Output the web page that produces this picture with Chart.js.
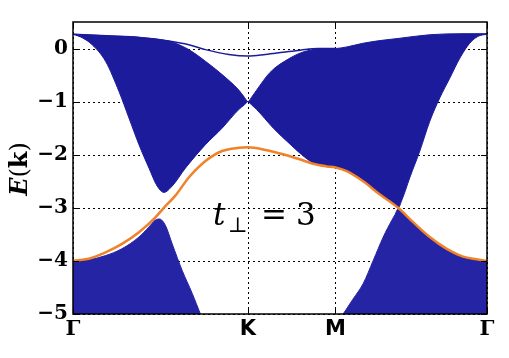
<!DOCTYPE html>
<html><head><meta charset="utf-8">
<script src="https://cdn.jsdelivr.net/npm/chart.js@4"></script>
<style>html,body{margin:0;padding:0;background:#fff}canvas{display:block}</style>
</head><body>
<canvas id="c" width="509" height="358"></canvas>
<script>
// path coordinate: Γ=0, K=1, M=1.5, Γ=2.366 (|ΓK| : |KM| : |MΓ| = 1 : 0.5 : 0.866)
const kTicks = [0, 1, 1.5, 2.366];
const kLabels = ['Γ', 'K', 'M', 'Γ'];
const eTicks = [-5, -4, -3, -2, -1, 0];
const eLabels = ['−5', '−4', '−3', '−2', '−1', '0'];
const eMin = -5, eMax = 0.5;

// upper continuum: top edge
const upperTopX = [0, 0.19, 0.38, 0.548, 0.6, 0.662, 0.757, 0.852, 0.947, 0.98, 1.0, 1.02, 1.05, 1.126, 1.24, 1.32, 1.40, 1.5, 1.564, 1.658, 1.754, 1.858, 2.039, 2.229, 2.366];
const upperTopE = [0.27, 0.24, 0.21, 0.14, 0.08, -0.02, -0.24, -0.49, -0.78, -0.92, -1.0, -0.92, -0.78, -0.45, -0.18, -0.06, -0.01, 0.0, 0.03, 0.1, 0.15, 0.19, 0.26, 0.28, 0.28];
// upper continuum: bottom edge
const upperBotX = [0, 0.055, 0.11, 0.186, 0.263, 0.32, 0.377, 0.434, 0.481, 0.519, 0.567, 0.643, 0.757, 0.852, 0.947, 0.98, 1.0, 1.02, 1.05, 1.145, 1.24, 1.307, 1.371, 1.43, 1.5, 1.564, 1.658, 1.754, 1.83, 1.858, 1.88, 1.925, 1.982, 2.039, 2.096, 2.153, 2.211, 2.267, 2.315, 2.366];
const upperBotE = [0.27, 0.2, 0.07, -0.24, -0.81, -1.31, -1.81, -2.25, -2.59, -2.71, -2.59, -2.25, -1.81, -1.5, -1.15, -1.06, -1.0, -1.06, -1.15, -1.5, -1.8, -2.0, -2.15, -2.2, -2.23, -2.31, -2.5, -2.75, -2.91, -3.0, -2.85, -2.43, -1.93, -1.37, -0.93, -0.56, -0.18, 0.1, 0.23, 0.27];
// lower continuum, left piece (top edge)
const lowLeftX = [0, 0.09, 0.186, 0.28, 0.377, 0.434, 0.471, 0.494, 0.528, 0.567, 0.624, 0.681, 0.728];
const lowLeftE = [-4.01, -3.98, -3.9, -3.77, -3.55, -3.36, -3.23, -3.21, -3.33, -3.68, -4.18, -4.61, -5.0];
// lower continuum, right piece (top edge)
const lowRightX = [1.544, 1.6, 1.658, 1.716, 1.773, 1.821, 1.84, 1.858, 1.88, 1.944, 2.039, 2.134, 2.229, 2.306, 2.366];
const lowRightE = [-5.0, -4.72, -4.43, -3.99, -3.55, -3.24, -3.13, -3.02, -3.09, -3.29, -3.57, -3.79, -3.93, -3.98, -4.02];
// thin surface band near E=0
const surfX = [0, 0.19, 0.38, 0.548, 0.662, 0.757, 0.89, 1.0, 1.1, 1.2, 1.3, 1.4, 1.5];
const surfE = [0.27, 0.24, 0.21, 0.14, 0.07, -0.02, -0.11, -0.14, -0.11, -0.07, -0.03, 0.0, 0.0];
// orange band
const edgeX = [0, 0.09, 0.186, 0.28, 0.377, 0.471, 0.519, 0.585, 0.662, 0.757, 0.852, 0.947, 1.0, 1.1, 1.2, 1.3, 1.371, 1.45, 1.5, 1.564, 1.658, 1.754, 1.858, 1.944, 2.039, 2.134, 2.229, 2.306, 2.366];
const edgeE = [-4.0, -3.96, -3.84, -3.68, -3.46, -3.18, -3.0, -2.77, -2.43, -2.12, -1.93, -1.87, -1.86, -1.91, -1.99, -2.09, -2.17, -2.22, -2.24, -2.31, -2.5, -2.75, -3.0, -3.27, -3.55, -3.77, -3.92, -3.97, -4.0];

const annX = 0.80, annY = -3.32;   // position of the t⊥ = 3 label (data units)

const blue = 'rgb(27,27,155)';
const blueLow = 'rgb(36,36,164)';
const orange = 'rgb(240,130,42)';

function pts(xs, ys) { return xs.map((x, i) => ({ x: x, y: ys[i] })); }

const decor = {
  id: 'decor',
  beforeDatasetsDraw(chart) {
    const { ctx, chartArea: a, scales: { x, y } } = chart;
    ctx.save();
    ctx.strokeStyle = '#000';
    ctx.lineWidth = 1;
    ctx.setLineDash([2, 3]);
    ctx.beginPath();
    kTicks.forEach(v => { const p = Math.round(x.getPixelForValue(v)) + 0.5; ctx.moveTo(p, a.top); ctx.lineTo(p, a.bottom); });
    eTicks.forEach(v => { const p = Math.round(y.getPixelForValue(v)) + 0.5; ctx.moveTo(a.left, p); ctx.lineTo(a.right, p); });
    ctx.stroke();
    ctx.restore();
  },
  afterDraw(chart) {
    const { ctx, chartArea: a, scales: { x, y } } = chart;
    ctx.save();
    ctx.strokeStyle = '#000';
    ctx.lineWidth = 1;
    ctx.beginPath();
    kTicks.forEach(v => { const p = Math.round(x.getPixelForValue(v)) + 0.5; ctx.moveTo(p, a.bottom); ctx.lineTo(p, a.bottom - 6); ctx.moveTo(p, a.top); ctx.lineTo(p, a.top + 6); });
    eTicks.forEach(v => { const p = Math.round(y.getPixelForValue(v)) + 0.5; ctx.moveTo(a.left, p); ctx.lineTo(a.left + 6, p); ctx.moveTo(a.right, p); ctx.lineTo(a.right - 6, p); });
    ctx.stroke();
    ctx.lineWidth = 1.5;
    ctx.strokeRect(a.left, a.top, a.right - a.left, a.bottom - a.top);

    // annotation t⊥ = 3
    const ax = x.getPixelForValue(annX), ay = y.getPixelForValue(annY);
    ctx.fillStyle = '#000';
    ctx.textBaseline = 'alphabetic';
    ctx.textAlign = 'left';
    ctx.font = 'italic 31px "DejaVu Serif", serif';
    ctx.fillText('t', ax, ay);
    ctx.font = '21px "DejaVu Serif", serif';
    ctx.fillText('⊥', ax + 15, ay + 7);
    ctx.font = '31px "DejaVu Serif", serif';
    ctx.fillText('=', ax + 48, ay);
    ctx.fillText('3', ax + 83, ay);

    // y axis title E(k)
    const parts = [
      ['E', 'italic bold 24px "DejaVu Serif", serif'],
      ['(', '24px "DejaVu Serif", serif'],
      ['k', 'bold 24px "DejaVu Serif", serif'],
      [')', '24px "DejaVu Serif", serif']
    ];
    let total = 0;
    parts.forEach(p => { ctx.font = p[1]; total += ctx.measureText(p[0]).width; });
    ctx.translate(21, (a.top + a.bottom) / 2 + 1);
    ctx.rotate(-Math.PI / 2);
    ctx.textBaseline = 'middle';
    let cx = -total / 2;
    parts.forEach(p => { ctx.font = p[1]; ctx.fillText(p[0], cx, 0); cx += ctx.measureText(p[0]).width; });
    ctx.restore();
  }
};

new Chart(document.getElementById('c'), {
  type: 'line',
  data: {
    datasets: [
      { label: 'upper bottom', data: pts(upperBotX, upperBotE), borderColor: blue, borderWidth: 1, fill: false, order: 3 },
      { label: 'upper top', data: pts(upperTopX, upperTopE), borderColor: blue, borderWidth: 1, backgroundColor: blue, fill: '-1', order: 2 },
      { label: 'lower left', data: pts(lowLeftX, lowLeftE), borderColor: blueLow, borderWidth: 1, backgroundColor: blueLow, fill: 'start', order: 4 },
      { label: 'lower right', data: pts(lowRightX, lowRightE), borderColor: blueLow, borderWidth: 1, backgroundColor: blueLow, fill: 'start', order: 5 },
      { label: 'surface', data: pts(surfX, surfE), borderColor: blue, borderWidth: 1.5, fill: false, order: 1 },
      { label: 'edge', data: pts(edgeX, edgeE), borderColor: orange, borderWidth: 2.5, fill: false, order: 0 }
    ]
  },
  options: {
    responsive: false,
    animation: false,
    devicePixelRatio: 1,
    elements: { point: { radius: 0 }, line: { cubicInterpolationMode: 'monotone' } },
    layout: { padding: { left: 0, right: 22, top: 22, bottom: 0 } },
    plugins: { legend: { display: false }, tooltip: { enabled: false }, title: { display: false } },
    scales: {
      x: {
        type: 'linear', min: kTicks[0], max: kTicks[kTicks.length - 1],
        afterBuildTicks: s => { s.ticks = kTicks.map(v => ({ value: v })); },
        afterFit: s => { s.height = 44; },
        grid: { display: false, drawTicks: false },
        border: { display: false },
        ticks: {
          autoSkip: false, maxRotation: 0, padding: 3, color: '#000',
          callback: (v, i) => kLabels[i],
          font: c => (kLabels[c.index] === 'Γ')
            ? { family: '"DejaVu Serif", serif', size: 21, weight: 'bold' }
            : { family: '"DejaVu Sans", sans-serif', size: 21, weight: 'bold' }
        }
      },
      y: {
        type: 'linear', min: eMin, max: eMax,
        afterBuildTicks: s => { s.ticks = eTicks.map(v => ({ value: v })); },
        afterFit: s => { s.width = 73; },
        grid: { display: false, drawTicks: false },
        border: { display: false },
        ticks: {
          padding: 5, color: '#000',
          callback: (v, i) => eLabels[i],
          font: { family: '"DejaVu Serif", serif', size: 20, weight: 'bold' }
        }
      }
    }
  },
  plugins: [decor]
});
</script>
</body></html>
